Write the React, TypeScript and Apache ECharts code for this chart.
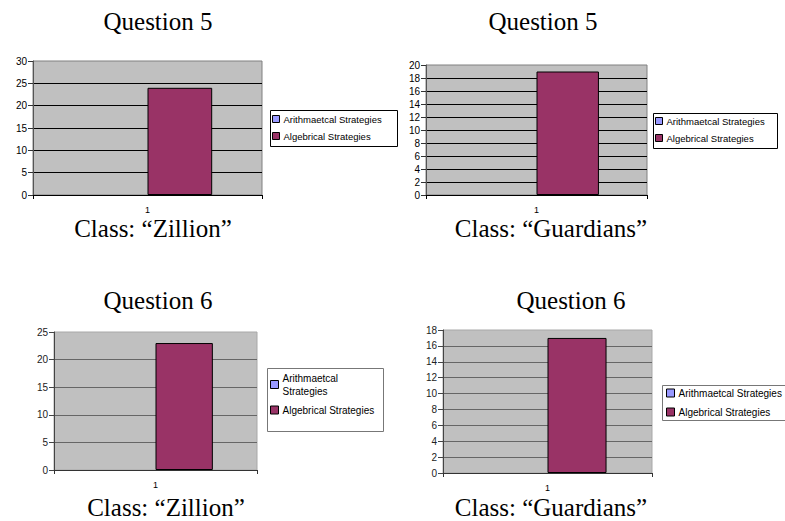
import React, { useEffect, useRef } from "react";
import * as echarts from "echarts";

// ---- Data ----
const categories = ["1"];
const seriesNames = ["Arithmaetcal Strategies", "Algebrical Strategies"];
const chartTitles = ["Question 5", "Question 5", "Question 6", "Question 6"];
const classLabels = ["Class: \u201CZillion\u201D", "Class: \u201CGuardians\u201D", "Class: \u201CZillion\u201D", "Class: \u201CGuardians\u201D"];
const arithValues = [0, 0, 0, 0];
const algValues = [24, 19, 23, 17];
const yMax = [30, 20, 25, 18];
const yInterval = [5, 2, 5, 2];

// ---- Layout ----
const grids = [
  { left: 33, top: 61, width: 229, height: 134 },
  { left: 426, top: 65, width: 221, height: 130 },
  { left: 54, top: 332, width: 203, height: 138 },
  { left: 443, top: 330, width: 209, height: 143 },
];
const titlePos = [
  [158, 21],
  [543, 21],
  [158, 300],
  [571, 300],
];
const classPos = [
  [153, 228],
  [551, 228],
  [166, 507],
  [551, 507],
];
const legendBoxes = [
  { x: 270, y: 110, w: 127, h: 36 },
  { x: 653, y: 113, w: 124, h: 35 },
  { x: 267, y: 368, w: 116, h: 63 },
  { x: 662, y: 385, w: 130, h: 35 },
];
const legendCfg = [
  { left: 272, top: 113, gap: 5, fs: 9.5, lh: 12, icon: 7, wrap: false },
  { left: 655, top: 115, gap: 5, fs: 9.5, lh: 12, icon: 7, wrap: false },
  { left: 270, top: 371.5, gap: 6, fs: 10, lh: 13, icon: 8, wrap: true },
  { left: 666, top: 387, gap: 7, fs: 10, lh: 12, icon: 8, wrap: false },
];

const SANS = "'Liberation Sans', Arial, sans-serif";
const SERIF = "'Liberation Serif', 'Times New Roman', serif";

export default function App() {
  const ref = useRef<HTMLDivElement>(null);
  useEffect(() => {
    if (!ref.current) return;
    const chart = echarts.init(ref.current, undefined, { renderer: "svg" });
    const isTop = (i: number) => i < 2;

    const grid = grids.map((g, i) => ({
      ...g,
      show: true,
      backgroundColor: "#c0c0c0",
      borderColor: isTop(i) ? "#808080" : "#a8a8a8",
      borderWidth: 1,
      containLabel: false,
    }));

    const xAxis = grids.map((_, i) => ({
      type: "category",
      gridIndex: i,
      data: categories,
      axisLine: { show: true, lineStyle: { color: isTop(i) ? "#000" : "#333", width: 1 } },
      axisTick: { show: true, length: 4, lineStyle: { color: isTop(i) ? "#000" : "#333" } },
      axisLabel: { fontSize: 9, color: "#000", fontFamily: SANS, margin: 10 },
      splitLine: { show: false },
    }));

    const yAxis = grids.map((_, i) => ({
      type: "value",
      gridIndex: i,
      min: 0,
      max: yMax[i],
      interval: yInterval[i],
      axisLine: { show: true, lineStyle: { color: isTop(i) ? "#555" : "#444", width: 1 } },
      axisTick: { show: true, length: 5, lineStyle: { color: isTop(i) ? "#333" : "#444" } },
      axisLabel: { fontSize: 10, color: isTop(i) ? "#000" : "#222", fontFamily: SANS, margin: 6 },
      splitLine: {
        show: true,
        showMaxLine: false,
        showMinLine: false,
        lineStyle: { color: isTop(i) ? "#000" : "#666", width: 1 },
      },
    }));

    const series: any[] = [];
    grids.forEach((_, i) => {
      series.push({
        type: "bar",
        name: seriesNames[0],
        xAxisIndex: i,
        yAxisIndex: i,
        data: [arithValues[i]],
        barGap: "0%",
        barCategoryGap: "43.5%",
        itemStyle: { color: "#9999ff", borderColor: "#000", borderWidth: 0 },
      });
      series.push({
        type: "bar",
        name: seriesNames[1],
        xAxisIndex: i,
        yAxisIndex: i,
        data: [algValues[i]],
        barGap: "0%",
        barCategoryGap: "43.5%",
        itemStyle: { color: "#993366", borderColor: "#000", borderWidth: 1 },
      });
    });

    const legend = legendCfg.map((c) => ({
      show: true,
      orient: "vertical",
      left: c.left,
      top: c.top,
      padding: 0,
      itemGap: c.gap,
      itemWidth: c.icon,
      itemHeight: c.icon,
      icon: "rect",
      selectedMode: false,
      data: seriesNames,
      itemStyle: { borderColor: "#000", borderWidth: 1 },
      textStyle: { fontSize: c.fs, lineHeight: c.lh, color: "#000", fontFamily: SANS, padding: [0, 0, 0, -1] },
      formatter: c.wrap
        ? (name: string) => (name === seriesNames[0] ? "Arithmaetcal\nStrategies" : name)
        : (name: string) => name,
    }));

    const graphic: any[] = [];
    legendBoxes.forEach((b, i) => {
      graphic.push({
        type: "rect",
        z: 1,
        shape: { x: b.x + 0.5, y: b.y + 0.5, width: b.w, height: b.h },
        style: { fill: "#fff", stroke: isTop(i) ? "#000" : "#777", lineWidth: 1 },
      });
    });
    chartTitles.forEach((t, i) => {
      graphic.push({
        type: "text",
        x: titlePos[i][0],
        y: titlePos[i][1],
        style: { text: t, font: `25px ${SERIF}`, fill: "#000", textAlign: "center", textVerticalAlign: "middle" },
      });
    });
    classLabels.forEach((t, i) => {
      graphic.push({
        type: "text",
        x: classPos[i][0],
        y: classPos[i][1],
        style: { text: t, font: `25px ${SERIF}`, fill: "#000", textAlign: "center", textVerticalAlign: "middle" },
      });
    });

    chart.setOption({
      animation: false,
      backgroundColor: "#fff",
      grid,
      xAxis,
      yAxis,
      series,
      legend,
      graphic,
    });
    return () => chart.dispose();
  }, []);
  return <div ref={ref} style={{ position: "fixed", left: 0, top: 0, width: 785, height: 521 }} />;
}
